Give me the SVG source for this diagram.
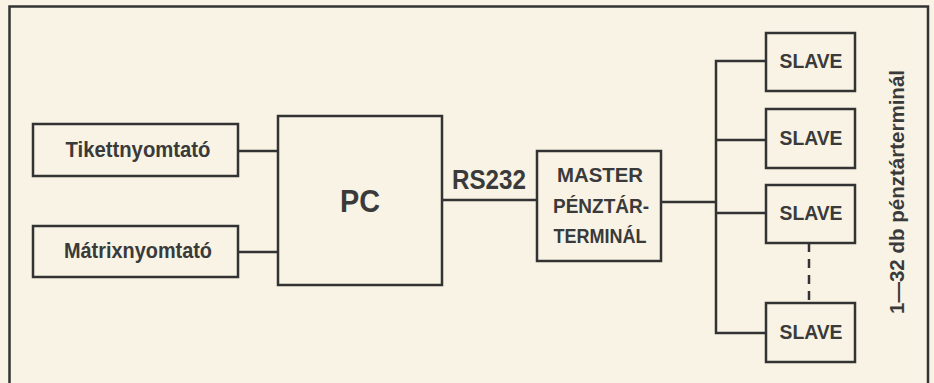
<svg xmlns="http://www.w3.org/2000/svg" width="934" height="383" viewBox="0 0 934 383">
<style>
.box{fill:none;stroke:#333;stroke-width:2.5}
.ln{fill:none;stroke:#333;stroke-width:2.5}
.t{font-family:"Liberation Sans",Arial,sans-serif;font-weight:bold;fill:#3a3a3a;text-anchor:middle}
</style>
<rect width="934" height="383" fill="#f8f3e4"/>
<path class="ln" d="M9.5,390 V6.5 H928 V390" stroke-width="3"/>
<g id="tikett">
<rect class="box" x="33" y="124" width="205" height="52"/>
<text class="t" x="138" y="157" font-size="22" textLength="145" lengthAdjust="spacingAndGlyphs">Tikettnyomtató</text>
</g>
<g id="matrix">
<rect class="box" x="33" y="226" width="205" height="51"/>
<text class="t" x="138" y="258" font-size="22" textLength="148" lengthAdjust="spacingAndGlyphs">Mátrixnyomtató</text>
</g>
<g id="pc">
<rect class="box" x="278" y="116" width="164" height="169"/>
<text class="t" x="360" y="212" font-size="31" textLength="40" lengthAdjust="spacingAndGlyphs">PC</text>
</g>
<g id="master">
<rect class="box" x="537" y="151" width="124" height="110"/>
<text class="t" x="600" y="182" font-size="21" textLength="86" lengthAdjust="spacingAndGlyphs">MASTER</text>
<text class="t" x="601" y="213" font-size="21" textLength="96" lengthAdjust="spacingAndGlyphs">PÉNZTÁR-</text>
<text class="t" x="600" y="243" font-size="21" textLength="93" lengthAdjust="spacingAndGlyphs">TERMINÁL</text>
</g>
<g id="slave1">
<rect class="box" x="766" y="33" width="89" height="58"/>
<text class="t" x="811" y="68" font-size="21" textLength="63" lengthAdjust="spacingAndGlyphs">SLAVE</text>
</g>
<g id="slave2">
<rect class="box" x="766" y="109" width="89" height="59"/>
<text class="t" x="811" y="145" font-size="21" textLength="63" lengthAdjust="spacingAndGlyphs">SLAVE</text>
</g>
<g id="slave3">
<rect class="box" x="766" y="185" width="89" height="58"/>
<text class="t" x="811" y="220" font-size="21" textLength="63" lengthAdjust="spacingAndGlyphs">SLAVE</text>
</g>
<g id="slave4">
<rect class="box" x="766" y="303" width="89" height="59"/>
<text class="t" x="811" y="339" font-size="21" textLength="63" lengthAdjust="spacingAndGlyphs">SLAVE</text>
</g>
<g id="rs232">
<text class="t" x="489" y="189" font-size="27" textLength="74" lengthAdjust="spacingAndGlyphs">RS232</text>
</g>
<g id="count-label">
<text class="t" transform="translate(904,192) rotate(-90)" font-size="21" textLength="244" lengthAdjust="spacingAndGlyphs">1—32 db pénztárterminál</text>
</g>
<g id="connectors">
<line class="ln" x1="238" y1="151" x2="278" y2="151"/>
<line class="ln" x1="238" y1="252" x2="278" y2="252"/>
<line class="ln" x1="442" y1="200" x2="537" y2="200"/>
<line class="ln" x1="661" y1="202" x2="716" y2="202"/>
<path class="ln" d="M766,61 H716 V333 H766"/>
<line class="ln" x1="716" y1="140" x2="766" y2="140"/>
<line class="ln" x1="716" y1="213" x2="766" y2="213"/>
<line class="ln" x1="809" y1="243" x2="809" y2="303" stroke-dasharray="9,7"/>
</g>
</svg>
